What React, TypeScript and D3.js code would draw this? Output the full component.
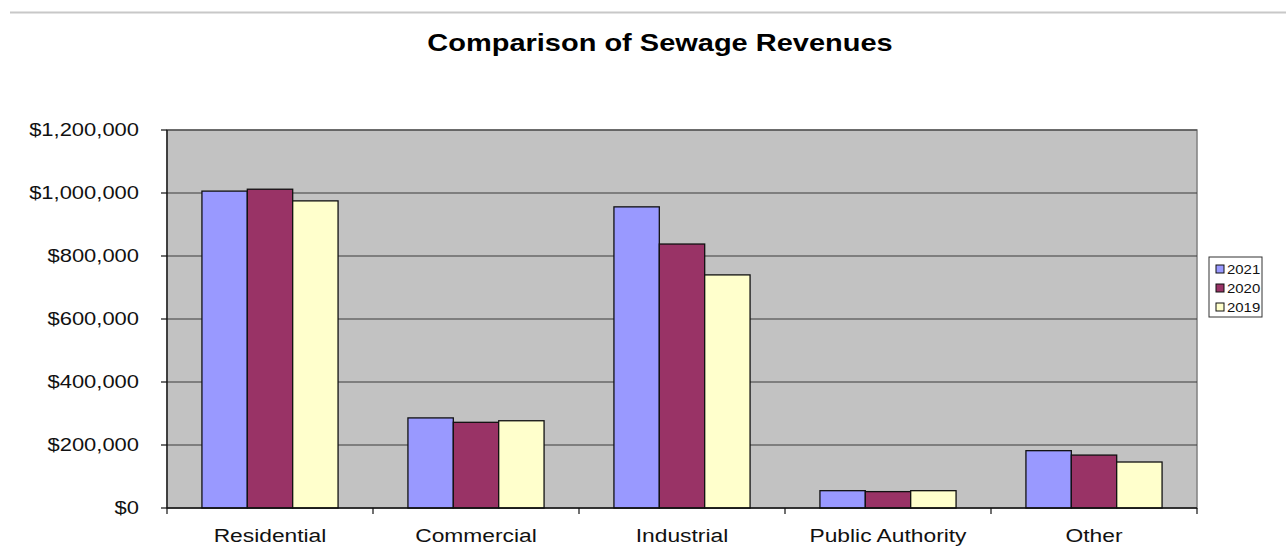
import React from "react";
import * as d3 from "d3";

const categories = ["Residential", "Commercial", "Industrial", "Public Authority", "Other"];
const seriesNames = ["2021", "2020", "2019"];
const values2021 = [1006000, 286000, 956000, 55000, 182000];
const values2020 = [1012000, 272000, 838000, 52000, 168000];
const values2019 = [975000, 277000, 740000, 55000, 146000];
const yTicks = [0, 200000, 400000, 600000, 800000, 1000000, 1200000];
const seriesColors = ["#9999ff", "#993366", "#ffffcc"];

const W = 1286;
const H = 558;
const plot = { left: 167, right: 1197, top: 130, bottom: 508 };
const FONT = "'Liberation Sans', Arial, sans-serif";
const SX = 1.22;

export default function App() {
  const series = [values2021, values2020, values2019];
  const x = d3.scaleBand<string>().domain(categories).range([plot.left, plot.right]).padding(0);
  const xs = d3
    .scaleBand<string>()
    .domain(seriesNames)
    .range([0, x.bandwidth()])
    .paddingInner(0)
    .paddingOuter(0.77);
  const y = d3.scaleLinear().domain([0, 1200000]).range([plot.bottom, plot.top]);
  const fmt = (v: number) => "$" + d3.format(",")(v);

  const legend = { x: 1209, y: 257, w: 53, h: 60, row: 19 };

  return (
    <svg
      width={W}
      height={H}
      style={{ position: "absolute", left: 0, top: 0, background: "#ffffff" }}
      fontFamily={FONT}
    >
      <rect x={0} y={0} width={W} height={H} fill="#ffffff" />
      <line x1={10} x2={W} y1={12.5} y2={12.5} stroke="#c8c8c8" strokeWidth={2} />

      <text
        transform={`translate(660,51) scale(1.26,1)`}
        textAnchor="middle"
        fontSize={23}
        fontWeight="bold"
        fill="#000"
      >
        Comparison of Sewage Revenues
      </text>

      {/* plot area */}
      <rect
        x={plot.left}
        y={plot.top}
        width={plot.right - plot.left}
        height={plot.bottom - plot.top}
        fill="#c2c2c2"
        stroke="#808080"
        strokeWidth={1.5}
      />

      {/* gridlines */}
      {yTicks.slice(1).map((t) => (
        <line
          key={"g" + t}
          x1={plot.left}
          x2={plot.right}
          y1={y(t)}
          y2={y(t)}
          stroke="#3a3a3a"
          strokeWidth={1.2}
        />
      ))}

      {/* bars */}
      {categories.map((c, ci) => (
        <g key={c} transform={`translate(${x(c)},0)`}>
          {seriesNames.map((s, si) => (
            <rect
              key={s}
              x={xs(s)}
              y={y(series[si][ci])}
              width={xs.bandwidth()}
              height={y(0) - y(series[si][ci])}
              fill={seriesColors[si]}
              stroke="#111"
              strokeWidth={1.3}
            />
          ))}
        </g>
      ))}

      {/* axes */}
      <line x1={plot.left} x2={plot.left} y1={plot.top} y2={plot.bottom} stroke="#111" strokeWidth={1.3} />
      <line x1={plot.left} x2={plot.right} y1={plot.bottom} y2={plot.bottom} stroke="#111" strokeWidth={1.3} />
      {yTicks.map((t) => (
        <g key={"t" + t}>
          <line x1={plot.left - 6} x2={plot.left} y1={y(t)} y2={y(t)} stroke="#111" strokeWidth={1.2} />
          <text
            transform={`translate(139,${y(t)}) scale(${SX},1)`}
            textAnchor="end"
            dy="0.36em"
            fontSize={18}
            fill="#111"
          >
            {fmt(t)}
          </text>
        </g>
      ))}
      {categories.map((c) => (
        <line
          key={"xt" + c}
          x1={x(c)}
          x2={x(c)}
          y1={plot.bottom}
          y2={plot.bottom + 6}
          stroke="#111"
          strokeWidth={1.2}
        />
      ))}
      <line x1={plot.right} x2={plot.right} y1={plot.bottom} y2={plot.bottom + 6} stroke="#111" strokeWidth={1.2} />
      {categories.map((c) => (
        <text
          key={"xl" + c}
          transform={`translate(${(x(c) as number) + x.bandwidth() / 2},542) scale(1.2,1)`}
          textAnchor="middle"
          fontSize={19}
          fill="#111"
        >
          {c}
        </text>
      ))}

      {/* legend */}
      <rect
        x={legend.x}
        y={legend.y}
        width={legend.w}
        height={legend.h}
        fill="#ffffff"
        stroke="#333"
        strokeWidth={1}
      />
      {seriesNames.map((s, i) => {
        const cy = legend.y + 12 + i * legend.row;
        return (
          <g key={"l" + s}>
            <rect x={legend.x + 7} y={cy - 4} width={8} height={8} fill={seriesColors[i]} stroke="#111" strokeWidth={1} />
            <text
              transform={`translate(${legend.x + 18},${cy}) scale(1.15,1)`}
              dy="0.36em"
              fontSize={13}
              fill="#111"
            >
              {s}
            </text>
          </g>
        );
      })}
    </svg>
  );
}
